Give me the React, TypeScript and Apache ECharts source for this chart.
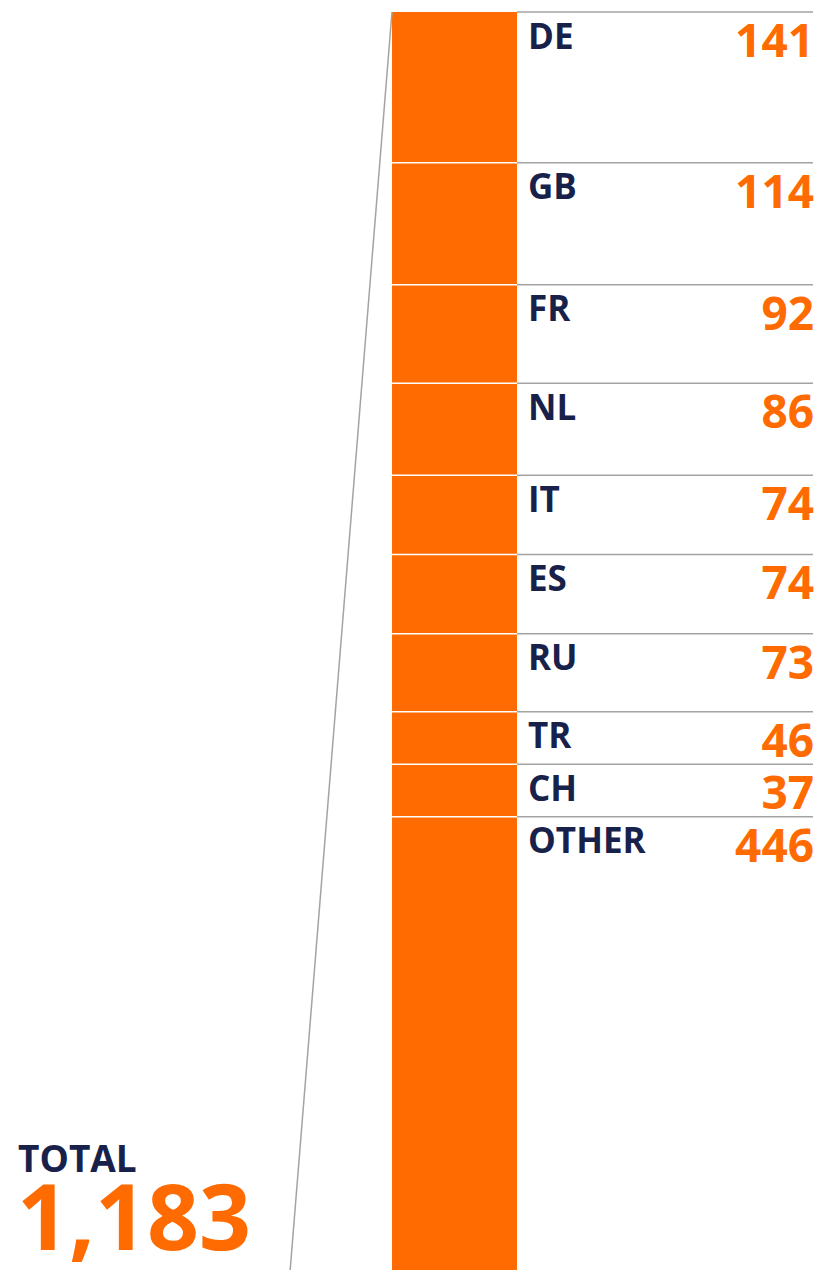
import React, { useEffect, useRef } from "react";
import * as echarts from "echarts";

const countries = ["DE", "GB", "FR", "NL", "IT", "ES", "RU", "TR", "CH", "OTHER"];
const counts = [141, 114, 92, 86, 74, 74, 73, 46, 37, 446];
const totalLabel = "TOTAL";

const ORANGE = "#FF6B00";
const NAVY = "#17214A";
const GRAY = "#A3A3A3";
const FONT = "'Open Sans', 'Noto Sans', sans-serif";

// layout: pixels per unit and minimum segment height (in units) so labels fit
const PX_PER_UNIT = 1.07;
const MIN_SEG_UNITS = 49;
const GRID_TOP = 12;
const CHART_H = 1270;

export default function App() {
  const ref = useRef<HTMLDivElement>(null);
  useEffect(() => {
    if (!ref.current) return;
    const chart = echarts.init(ref.current, null, { renderer: "svg" });
    const total = counts.reduce((a, b) => a + b, 0);
    const shown = counts.map((c) => Math.max(c, MIN_SEG_UNITS));
    const starts: number[] = [];
    let acc = 0;
    shown.forEach((c) => {
      starts.push(acc);
      acc += c;
    });
    const axisMax = (CHART_H - GRID_TOP) / PX_PER_UNIT;

    const barSeries = countries.map((name, i) => ({
      name,
      type: "bar",
      stack: "all",
      barWidth: "100%",
      barCategoryGap: "0%",
      data: [shown[i]],
      itemStyle: { color: ORANGE },
      silent: true,
    }));

    const labelSeries = {
      type: "custom",
      z: 10,
      clip: false,
      data: countries.map((_, i) => [0, starts[i], starts[i] + shown[i], counts[i]]),
      renderItem: (params: any, api: any) => {
        const i = params.dataIndex;
        const top = api.coord([0, api.value(1)]);
        const size = api.size([1, 0]);
        const bw = size[0];
        const left = top[0] - bw / 2;
        const right = top[0] + bw / 2;
        const y = top[1];
        const children: any[] = [
          {
            type: "line",
            shape: { x1: right, y1: y, x2: 813, y2: y },
            style: { stroke: GRAY, lineWidth: 1.5 },
          },
          {
            type: "text",
            style: {
              x: right + 11,
              y: y + 23,
              text: countries[i],
              fill: NAVY,
              font: `bold 35px ${FONT}`,
              textAlign: "left",
              textVerticalAlign: "middle",
            },
          },
          {
            type: "text",
            style: {
              x: 814,
              y: y + 27,
              text: String(api.value(3)),
              fill: ORANGE,
              font: `bold 46px ${FONT}`,
              textAlign: "right",
              textVerticalAlign: "middle",
            },
          },
        ];
        if (i > 0) {
          children.push({
            type: "line",
            shape: { x1: left, y1: y, x2: right, y2: y },
            style: { stroke: "#ffffff", lineWidth: 1.5 },
          });
        }
        return { type: "group", children };
      },
    };

    chart.setOption({
      animation: false,
      grid: { left: 392, width: 125, top: GRID_TOP, bottom: 0 },
      xAxis: {
        type: "category",
        data: ["all"],
        show: false,
      },
      yAxis: {
        type: "value",
        min: 0,
        max: axisMax,
        inverse: true,
        show: false,
      },
      series: [...barSeries, labelSeries],
      graphic: [
        {
          type: "line",
          shape: { x1: 392, y1: 12, x2: 290, y2: 1272 },
          style: { stroke: GRAY, lineWidth: 1.5 },
          z: 5,
        },
        {
          type: "text",
          x: 18,
          y: 1157.5,
          style: {
            text: totalLabel,
            fill: NAVY,
            font: `bold 37px ${FONT}`,
            textVerticalAlign: "middle",
          },
        },
        {
          type: "text",
          x: 17,
          y: 1215,
          style: {
            text: total.toLocaleString("en-US"),
            fill: ORANGE,
            font: `bold 91px ${FONT}`,
            textVerticalAlign: "middle",
          },
        },
      ],
    });
    return () => chart.dispose();
  }, []);
  return (
    <div
      ref={ref}
      style={{ position: "absolute", left: 0, top: 0, width: 819, height: 1270 }}
    />
  );
}
